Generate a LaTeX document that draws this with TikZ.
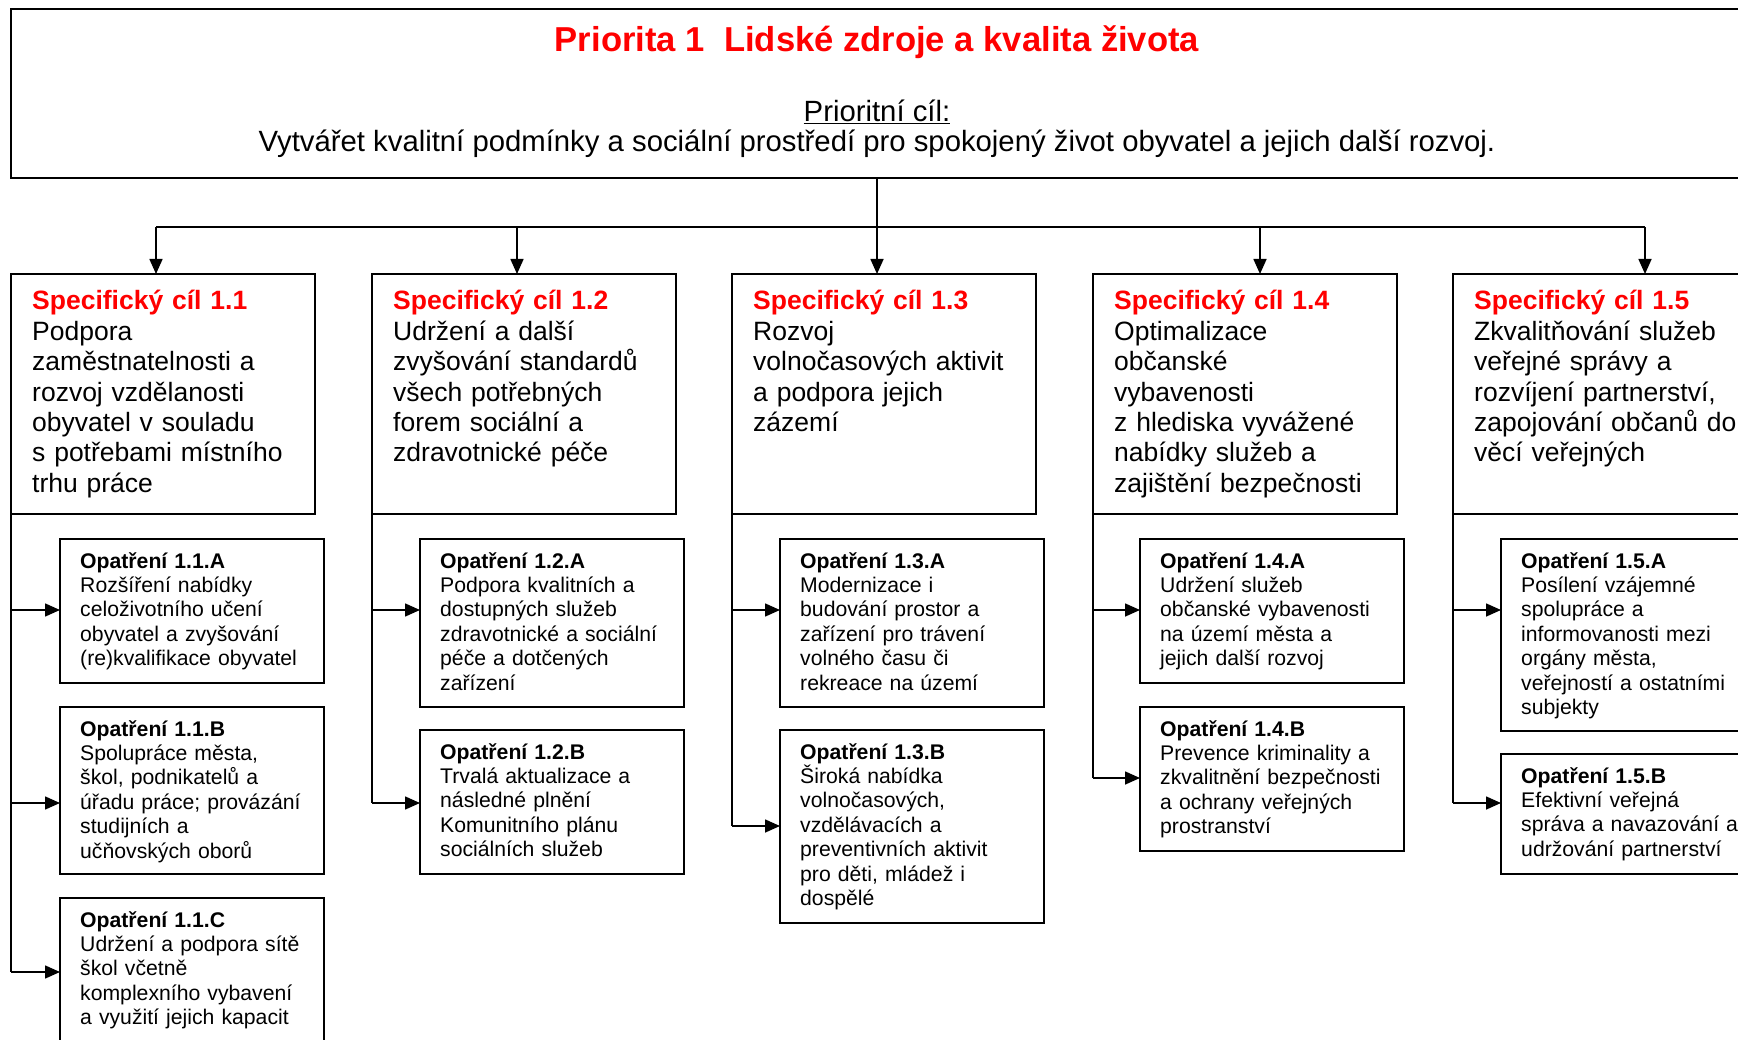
\documentclass[tikz,border=0pt]{standalone}
\usepackage{fontspec}
\setmainfont{Liberation Sans}
\usetikzlibrary{arrows.meta,calc}
\definecolor{prio}{RGB}{255,0,0}
\begin{document}
\begin{tikzpicture}[x=1pt,y=-1pt,
  box/.style={draw, line width=2pt, inner sep=0pt, outer sep=0pt, anchor=north west},
  specbox/.style={box, minimum width=304pt, minimum height=240pt},
  opbox/.style={box, minimum width=264pt},
  spectext/.style={anchor=base west, inner sep=0pt, text width=330pt, align=left, font=\fontsize{26.5}{30.4}\selectfont},
  optext/.style={anchor=base west, inner sep=0pt, text width=270pt, align=left, font=\fontsize{21.2}{24.4}\selectfont},
  ln/.style={line width=1.6pt},
  arr/.style={ln, -{Triangle[length=15pt,width=13pt]}},
]
\useasboundingbox (0,0) rectangle (1738,1040);
\clip (0,0) rectangle (1738,1040);

% top box
\node[box, minimum width=1732pt, minimum height=169pt] (top) at (11,9) {};
\node[anchor=base, inner sep=0pt, text=prio, font=\fontsize{34.6}{40}\selectfont\bfseries] (title) at (877,52) {Priorita 1\ \ Lidské zdroje a kvalita života};
\node[anchor=base, inner sep=0pt, font=\fontsize{29.3}{32}\selectfont] (goalh) at (877,122) {\underline{Prioritní cíl:}};
\node[anchor=base, inner sep=0pt, font=\fontsize{29.3}{32}\selectfont] (goal) at (877,152) {Vytvářet kvalitní podmínky a sociální prostředí pro spokojený život obyvatel a jejich další rozvoj.};

% specific goal boxes
\node[specbox] (s1) at (11,274) {};
\node[specbox] (s2) at (372,274) {};
\node[specbox] (s3) at (732,274) {};
\node[specbox] (s4) at (1093,274) {};
\node[specbox] (s5) at (1453,274) {};

\node[spectext] (s1t) at ($(s1.north west)+(21,36)$) {{\bfseries\color{prio}Specifický cíl 1.1}\\Podpora\\zaměstnatelnosti a\\rozvoj vzdělanosti\\obyvatel v souladu\\s potřebami místního\\trhu práce};
\node[spectext] (s2t) at ($(s2.north west)+(21,36)$) {{\bfseries\color{prio}Specifický cíl 1.2}\\Udržení a další\\zvyšování standardů\\všech potřebných\\forem sociální a\\zdravotnické péče};
\node[spectext] (s3t) at ($(s3.north west)+(21,36)$) {{\bfseries\color{prio}Specifický cíl 1.3}\\Rozvoj\\volnočasových aktivit\\a podpora jejich\\zázemí};
\node[spectext] (s4t) at ($(s4.north west)+(21,36)$) {{\bfseries\color{prio}Specifický cíl 1.4}\\Optimalizace\\občanské\\vybavenosti\\z hlediska vyvážené\\nabídky služeb a\\zajištění bezpečnosti};
\node[spectext] (s5t) at ($(s5.north west)+(21,36)$) {{\bfseries\color{prio}Specifický cíl 1.5}\\Zkvalitňování služeb\\veřejné správy a\\rozvíjení partnerství,\\zapojování občanů do\\věcí veřejných};

% measure boxes
\node[opbox, minimum height=144pt] (o11) at (60,539) {};
\node[opbox, minimum height=167pt] (o12) at (60,707) {};
\node[opbox, minimum height=162pt] (o13) at (60,898) {};
\node[opbox, minimum height=168pt] (o21) at (420,539) {};
\node[opbox, minimum height=144pt] (o22) at (420,730) {};
\node[opbox, minimum height=168pt] (o31) at (780,539) {};
\node[opbox, minimum height=193pt] (o32) at (780,730) {};
\node[opbox, minimum height=144pt] (o41) at (1140,539) {};
\node[opbox, minimum height=144pt] (o42) at (1140,707) {};
\node[opbox, minimum height=192pt] (o51) at (1501,539) {};
\node[opbox, minimum height=120pt] (o52) at (1501,754) {};

\node[optext] (o11t) at ($(o11.north west)+(20,29)$) {\textbf{Opatření 1.1.A}\\Rozšíření nabídky\\celoživotního učení\\obyvatel a zvyšování\\(re)kvalifikace obyvatel};
\node[optext] (o12t) at ($(o12.north west)+(20,29)$) {\textbf{Opatření 1.1.B}\\Spolupráce města,\\škol, podnikatelů a\\úřadu práce; provázání\\studijních a\\učňovských oborů};
\node[optext] (o13t) at ($(o13.north west)+(20,29)$) {\textbf{Opatření 1.1.C}\\Udržení a podpora sítě\\škol včetně\\komplexního vybavení\\a využití jejich kapacit};
\node[optext] (o21t) at ($(o21.north west)+(20,29)$) {\textbf{Opatření 1.2.A}\\Podpora kvalitních a\\dostupných služeb\\zdravotnické a sociální\\péče a dotčených\\zařízení};
\node[optext] (o22t) at ($(o22.north west)+(20,29)$) {\textbf{Opatření 1.2.B}\\Trvalá aktualizace a\\následné plnění\\Komunitního plánu\\sociálních služeb};
\node[optext] (o31t) at ($(o31.north west)+(20,29)$) {\textbf{Opatření 1.3.A}\\Modernizace i\\budování prostor a\\zařízení pro trávení\\volného času či\\rekreace na území};
\node[optext] (o32t) at ($(o32.north west)+(20,29)$) {\textbf{Opatření 1.3.B}\\Široká nabídka\\volnočasových,\\vzdělávacích a\\preventivních aktivit\\pro děti, mládež i\\dospělé};
\node[optext] (o41t) at ($(o41.north west)+(20,29)$) {\textbf{Opatření 1.4.A}\\Udržení služeb\\občanské vybavenosti\\na území města a\\jejich další rozvoj};
\node[optext] (o42t) at ($(o42.north west)+(20,29)$) {\textbf{Opatření 1.4.B}\\Prevence kriminality a\\zkvalitnění bezpečnosti\\a ochrany veřejných\\prostranství};
\node[optext] (o51t) at ($(o51.north west)+(20,29)$) {\textbf{Opatření 1.5.A}\\Posílení vzájemné\\spolupráce a\\informovanosti mezi\\orgány města,\\veřejností a ostatními\\subjekty};
\node[optext] (o52t) at ($(o52.north west)+(20,29)$) {\textbf{Opatření 1.5.B}\\Efektivní veřejná\\správa a navazování a\\udržování partnerství};

% connectors from the top
\coordinate (d1) at (156,227);
\coordinate (d2) at (517,227);
\coordinate (d3) at (877,227);
\coordinate (d4) at (1260,227);
\coordinate (d5) at (1645,227);
\draw[ln] (top.south) -- (d3);
\draw[ln] (d1) -- (d5);
\draw[arr] (d1) -- (d1 |- s1.north);
\draw[arr] (d2) -- (d2 |- s2.north);
\draw[arr] (d3) -- (d3 |- s3.north);
\draw[arr] (d4) -- (d4 |- s4.north);
\draw[arr] (d5) -- (d5 |- s5.north);

% trunks
\coordinate (t11) at (11,610);
\coordinate (t12) at (11,803);
\coordinate (t13) at (11,972);
\draw[ln] (s1.south west) -- (t13);
\draw[arr] (t11) -- (t11 -| o11.west);
\draw[arr] (t12) -- (t12 -| o12.west);
\draw[arr] (t13) -- (t13 -| o13.west);

\coordinate (t21) at (372,610);
\coordinate (t22) at (372,803);
\draw[ln] (s2.south west) -- (t22);
\draw[arr] (t21) -- (t21 -| o21.west);
\draw[arr] (t22) -- (t22 -| o22.west);

\coordinate (t31) at (732,610);
\coordinate (t32) at (732,826);
\draw[ln] (s3.south west) -- (t32);
\draw[arr] (t31) -- (t31 -| o31.west);
\draw[arr] (t32) -- (t32 -| o32.west);

\coordinate (t41) at (1093,610);
\coordinate (t42) at (1093,778);
\draw[ln] (s4.south west) -- (t42);
\draw[arr] (t41) -- (t41 -| o41.west);
\draw[arr] (t42) -- (t42 -| o42.west);

\coordinate (t51) at (1453,610);
\coordinate (t52) at (1453,803);
\draw[ln] (s5.south west) -- (t52);
\draw[arr] (t51) -- (t51 -| o51.west);
\draw[arr] (t52) -- (t52 -| o52.west);
\end{tikzpicture}
\end{document}
